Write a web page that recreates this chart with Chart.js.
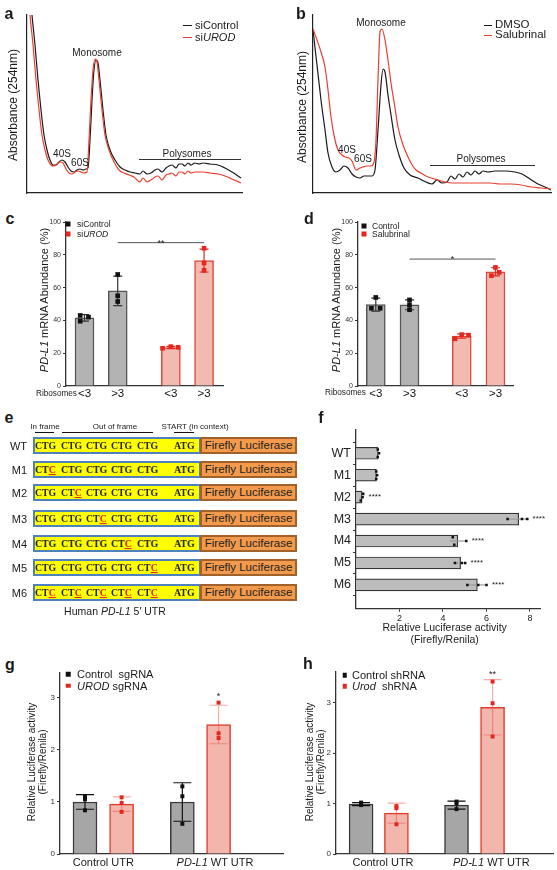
<!DOCTYPE html>
<html>
<head>
<meta charset="utf-8">
<title>PD-L1 translation figure</title>
<script src="https://cdn.jsdelivr.net/npm/chart.js@4.4.1/dist/chart.umd.min.js"></script>
<style>
body{margin:0;background:#fff;}
#fig{position:relative;width:557px;height:870px;overflow:hidden;font-family:"Liberation Sans",Arial,sans-serif;color:#1a1a1a;}
#fig canvas{position:absolute;}
.t{position:absolute;white-space:nowrap;line-height:1;}
.c{transform:translate(-50%,-50%);}
.l{transform:translateY(-50%);}
.r{transform:translate(-100%,-50%);}
.v{transform:translate(-50%,-50%) rotate(-90deg);}
.let{font-weight:bold;font-size:16px;}
.hl{position:absolute;height:0;}
.sq{position:absolute;transform:translate(-50%,-50%);}
.box{position:absolute;box-sizing:border-box;height:17px;}
.yel{background:#ffff00;border:2px solid #4f81bd;}
.ora{background:#f39a4c;border:2px solid #a0622a;font-size:11.5px;line-height:13px;text-align:center;color:#222;}
.cod{font-family:"Liberation Serif","Times New Roman",serif;font-weight:bold;font-size:9.8px;color:#222;}
.mut{color:#e3201b;text-decoration:underline;}
</style>
</head>
<body>
<div id="fig"></div>
<script>
// a: polysome profile (arbitrary absorbance units), siControl vs siUROD
var aCtrlX = [4,5,8,11,14,17,20,23,26,29,32,35,38,41,44,47,50,53,56,59,61,63,65,67,69,71,73,76,79,83,88,93,98,103,108,113,116,120,124,128,131,135,139,142,145,149,152,155,158,161,164,168,172,176,183,191,198,205,214]
var aCtrlY = [190,178,148,113,83,58,43,33,28,28,31,33,31,26,22,21,23,24,23,24,25,53,93,123,133,130,113,83,58,43,33,26,23,21,20,19,22,19,20,23,24,21,25,27,28,25,29,29,27,30,28,30,29,30,29,28,25,21,15]
var aUrodX = [2,3,6,9,12,15,18,21,24,27,30,33,36,39,42,45,48,51,54,57,60,62,64,66,68,70,72,75,78,82,87,92,97,102,107,113,116,120,124,128,131,135,139,142,145,149,152,155,158,161,164,168,172,176,183,191,198,205,214]
var aUrodY = [190,178,148,113,83,58,43,33,28,27,29,31,30,24,20,19,21,22,21,20,21,53,93,123,134,131,113,83,58,43,31,23,20,18,16,11,15,11,13,16,17,13,18,19,20,17,21,21,19,22,20,21,21,21,20,19,17,14,10]

// b: polysome profile, DMSO vs Salubrinal
var bDmsoX = [0,4,8,12,15,19,23,27,31,35,39,43,47,51,55,59,62,65,68,70,72,75,78,82,86,91,97,105,113,119,124,129,134,138,142,146,150,154,158,162,166,170,175,182,192,202,209,217,225,232,238]
var bDmsoY = [163,128,93,63,40,26,21,23,27,25,19,16,15,17,17,17,23,63,108,124,121,98,78,53,38,25,18,15,11,9,13,10,11,17,14,19,16,21,18,22,19,22,21,22,22,21,19,14,9,6,3]
var bSalX = [0,4,8,12,15,18,22,25,29,32,36,39,43,47,50,54,58,61,63,65,67,69,72,75,78,82,85,89,92,98,103,108,113,118,125,132,140,148,157,165,177,187,198,208,218,228,238]
var bSalY = [164,153,141,126,103,76,53,43,38,36,35,32,23,25,26,27,27,31,53,113,161,164,153,133,110,85,66,51,43,30,23,20,17,15,13,11,10,10,10,10,10,9,9,8,6,5,4]

// c: PD-L1 mRNA abundance (%), ribosome fractions
var riboTicks = ['<3','>3','<3','>3']
var pctTicks = [0,20,40,60,80,100]
var cCtrlMean = [41.5,58]
var cCtrlSd = [2,9]
var cCtrlPts = [[43,39.5,42],[68,55,51.5]]
var cUrodMean = [23.5,76.5]
var cUrodSd = [0.7,7]
var cUrodPts = [[23,24,23.6],[84,75,70.5]]

// d
var dCtrlMean = [49.6,49.5]
var dCtrlSd = [4,3]
var dCtrlPts = [[54,47.4,47.4],[52.5,49.5,46.5]]
var dSalMean = [30.5,69.6]
var dSalSd = [1.3,2.5]
var dSalPts = [[28.8,31.3,31.0],[72.3,67.3,69.3]]

// e: reporter constructs
var eRows = ['WT','M1','M2','M3','M4','M5','M6']
var eCodons = ['CTG','CTG','CTG','CTG','CTG']
var eMutated = [[],[0],[1],[2],[3],[4],[0,1,2,3,4]]

// f: relative luciferase activity per construct
var fLabels = ['WT','M1','M2','M3','M4','M5','M6']
var fMean = [1.02,0.94,0.28,7.48,4.68,4.81,5.58]
var fSd = [0.04,0.03,0.08,0.47,0.36,0.24,0.44]
var fPts = [[1.0,1.06,1.0],[0.93,0.97,0.93],[0.33,0.3,0.22],[6.97,7.63,7.87],[4.45,5.07,4.52],[4.55,4.86,5.02],[5.12,5.62,6.0]]
var fStars = ['','','****','****','****','****','****']
var fTicks = [2,4,6,8]

// g: sgRNA
var gGroups = ['Control UTR','<i>PD-L1</i> WT UTR']
var foldTicks = [0,1,2,3]
var gCtrlMean = [1.0,1.0]
var gCtrlSd = [0.14,0.37]
var gCtrlPts = [[1.1,1.05,0.84],[1.3,1.11,0.58]]
var gUrodMean = [0.96,2.49]
var gUrodSd = [0.14,0.37]
var gUrodPts = [[1.09,0.98,0.81],[2.91,2.32,2.23]]
var gStars = ['','*']

// h: shRNA
var hCtrlMean = [0.99,0.97]
var hCtrlSd = [0.03,0.08]
var hCtrlPts = [[1.02,0.99,0.97],[1.04,1.0,0.89]]
var hUrodMean = [0.81,2.91]
var hUrodSd = [0.2,0.55]
var hUrodPts = [[0.95,0.91,0.59],[3.42,2.99,2.33]]
var hStars = ['','**']

Chart.defaults.font.family = '"Liberation Sans", Arial, sans-serif'
Chart.defaults.color = '#222'
Chart.defaults.animation = false

var fig = document.getElementById('fig')

function canvasAt(b){
    var c = document.createElement('canvas')
    c.width = b.w
    c.height = b.h
    c.style.left = b.l + 'px'
    c.style.top = b.t + 'px'
    fig.appendChild(c)
    return c
}

// pin the chart area to exact page pixels
function frame(b, a){
    return {
        padding: {left:0, top:a.t - b.t, right:b.l + b.w - a.r, bottom:0},
        yFit: function(s){ s.width = a.l - b.l },
        xFit: function(s){ s.height = b.t + b.h - a.b }
    }
}

function extras(notes){
    return {
        id:'extras',
        afterDatasetDraw: function(chart, args){
            var ds = chart.data.datasets[args.index]
            if(!ds.err) return
            var horiz = chart.options.indexAxis === 'y'
            var vs = horiz ? chart.scales.x : chart.scales.y
            var ctx = chart.ctx
            ctx.save()
            ctx.strokeStyle = ds.errColor
            ctx.lineWidth = 1.2
            args.meta.data.forEach(function(el, i){
                var m = ds.means[i], e = ds.err[i]
                var p1 = vs.getPixelForValue(m - e), p2 = vs.getPixelForValue(m + e)
                var c = horiz ? el.y : el.x, w = (ds.cap || 0) / 2
                ctx.beginPath()
                if(horiz){
                    ctx.moveTo(p1, c); ctx.lineTo(p2, c)
                }else{
                    ctx.moveTo(c, p1); ctx.lineTo(c, p2)
                    ctx.moveTo(c - w, p1); ctx.lineTo(c + w, p1)
                    ctx.moveTo(c - w, p2); ctx.lineTo(c + w, p2)
                }
                ctx.stroke()
            })
            ctx.restore()
        },
        afterDraw: function(chart){
            var ctx = chart.ctx, xs = chart.scales.x, ys = chart.scales.y
            notes.forEach(function(n){
                ctx.save()
                ctx.fillStyle = '#222'
                ctx.strokeStyle = '#555'
                ctx.lineWidth = 1
                ctx.font = (n.size || 9) + 'px "Liberation Sans", Arial, sans-serif'
                var y = ys.getPixelForValue(n.y)
                if(n.x2 !== undefined){
                    var p1 = xs.getPixelForValue(n.x), p2 = xs.getPixelForValue(n.x2)
                    ctx.beginPath(); ctx.moveTo(p1, y); ctx.lineTo(p2, y); ctx.stroke()
                    ctx.textAlign = 'center'
                    ctx.textBaseline = 'alphabetic'
                    ctx.fillText(n.text, (p1 + p2) / 2, y + 3)
                }else{
                    ctx.textAlign = n.align || 'center'
                    ctx.textBaseline = 'middle'
                    ctx.fillText(n.text, xs.getPixelForValue(n.x), y)
                }
                ctx.restore()
            })
        }
    }
}

function profile(b, a, xmax, sets){
    var f = frame(b, a)
    new Chart(canvasAt(b), {
        type:'line',
        data:{datasets: sets.map(function(s){
            return {
                data: s.x.map(function(v, i){ return {x:v, y:s.y[i]} }),
                borderColor:s.color, borderWidth:1.2, pointRadius:0,
                cubicInterpolationMode:'monotone', order:s.order
            }
        })},
        options:{
            responsive:false, events:[],
            layout:{padding:f.padding},
            plugins:{legend:{display:false}, tooltip:{enabled:false}},
            scales:{
                x:{type:'linear', min:0, max:xmax, ticks:{display:false}, grid:{display:false}, border:{color:'#222', width:1.2}, afterFit:f.xFit},
                y:{type:'linear', min:0, max:178, ticks:{display:false}, grid:{display:false}, border:{color:'#222', width:1.2}, afterFit:f.yFit}
            }
        }
    })
}

function barPanel(b, a, o){
    var f = frame(b, a)
    var sets = []
    o.series.forEach(function(s){
        var dots = []
        s.at.forEach(function(k, i){
            s.pts[i].forEach(function(v, j){
                dots.push({x:o.slots[k] + (o.jit ? o.jit[k][j] : 0), y:v})
            })
        })
        sets.push({type:'scatter', order:1, data:dots, pointStyle:'rect', pointRadius:o.pr,
            backgroundColor:s.dot, borderColor:s.dot, borderWidth:0})
        sets.push({type:'bar', order:2, grouped:false, barThickness:o.bw, maxBarThickness:o.bw,
            data: s.at.map(function(k, i){ return {x:o.slots[k], y:s.means[i]} }),
            means:s.means, err:s.sd, errColor:s.errColor, cap:o.cap,
            backgroundColor:s.fill, borderColor:s.edge, borderWidth:1.5})
    })
    new Chart(canvasAt(b), {
        type:'bar',
        data:{datasets:sets},
        options:{
            responsive:false, events:[],
            layout:{padding:f.padding},
            plugins:{legend:{display:false}, tooltip:{enabled:false}},
            scales:{
                x:{type:'linear', offset:false, min:o.xmin, max:o.xmax, afterFit:f.xFit,
                    afterBuildTicks:function(s){ s.ticks = o.slots.map(function(v){ return {value:v} }) },
                    ticks:{display:!!o.xlabels, autoSkip:false, maxRotation:0, padding:1, color:'#111', font:{size:11.5},
                        callback:function(v, i){ return o.xlabels ? o.xlabels[i] : '' }},
                    grid:{display:false, drawTicks:false}, border:{color:'#333', width:1.3}},
                y:{type:'linear', min:0, max:o.ymax, afterFit:f.yFit,
                    afterBuildTicks:function(s){ s.ticks = o.yticks.map(function(v){ return {value:v} }) },
                    ticks:{padding:2, color:'#333', font:{size:o.yfont}},
                    grid:{display:true, drawOnChartArea:false, tickLength:3, color:'#333'},
                    border:{color:'#333', width:1.3}}
            }
        },
        plugins:[extras(o.notes || [])]
    })
}

function txt(x, y, html, cls, css){
    var d = document.createElement('div')
    d.className = 't ' + (cls || 'c')
    d.style.left = x + 'px'
    d.style.top = y + 'px'
    if(css) d.style.cssText += css
    d.innerHTML = html
    fig.appendChild(d)
    return d
}
function hline(x1, x2, y, color, w){
    var d = document.createElement('div')
    d.className = 'hl'
    d.style.cssText = 'left:' + x1 + 'px;top:' + y + 'px;width:' + (x2 - x1) + 'px;border-top:' + (w || 1.3) + 'px solid ' + color
    fig.appendChild(d)
}
function square(x, y, color, s){
    var d = document.createElement('div')
    d.className = 'sq'
    d.style.cssText = 'left:' + x + 'px;top:' + y + 'px;width:' + s + 'px;height:' + s + 'px;background:' + color
    fig.appendChild(d)
}
function starsAbove(means, sds, pts, pad){
    return means.map(function(m, i){ return Math.max(m + sds[i], Math.max.apply(null, pts[i])) + pad })
}

var RED = '#e3261e'

// ---------- a ----------
profile({l:0, t:0, w:270, h:200}, {l:27, t:15, r:242, b:193}, 215, [
    {x:aCtrlX, y:aCtrlY, color:'#1a1a1a', order:1},
    {x:aUrodX, y:aUrodY, color:'#e8402f', order:0}
])
// ---------- b ----------
profile({l:280, t:0, w:277, h:200}, {l:313, t:15, r:551, b:193}, 238, [
    {x:bDmsoX, y:bDmsoY, color:'#1a1a1a', order:1},
    {x:bSalX, y:bSalY, color:'#e8402f', order:0}
])

// ---------- c ----------
barPanel({l:40, t:210, w:200, h:195}, {l:66, t:222, r:223, b:386}, {
    slots:[1,2,3.6,4.6], xmin:0.443, xmax:5.17, xlabels:riboTicks,
    ymax:100, yticks:pctTicks, yfont:7, bw:19, cap:9, pr:3.3,
    jit:[[-0.13,-0.13,0.12],[0,0,0],[-0.25,0,0.22],[0,0,0]],
    series:[
        {at:[0,1], means:cCtrlMean, sd:cCtrlSd, pts:cCtrlPts, fill:'#b3b3b3', edge:'#555', dot:'#111', errColor:'#333'},
        {at:[2,3], means:cUrodMean, sd:cUrodSd, pts:cUrodPts, fill:'#f3bab2', edge:'#e04a3a', dot:RED, errColor:RED}
    ],
    notes:[{x:2, x2:4.6, y:87.4, text:'**', size:9}]
})

// ---------- d ----------
barPanel({l:300, t:210, w:240, h:195}, {l:358, t:222, r:513, b:386}, {
    slots:[1,2,3.55,4.55], xmin:0.472, xmax:5.07, xlabels:riboTicks,
    ymax:100, yticks:pctTicks, yfont:7, bw:19, cap:9, pr:3.3,
    jit:[[0,-0.13,0.13],[0,0,0],[-0.2,0,0.2],[0,-0.12,0.11]],
    series:[
        {at:[0,1], means:dCtrlMean, sd:dCtrlSd, pts:dCtrlPts, fill:'#b3b3b3', edge:'#555', dot:'#111', errColor:'#333'},
        {at:[2,3], means:dSalMean, sd:dSalSd, pts:dSalPts, fill:'#f3bab2', edge:'#e04a3a', dot:RED, errColor:RED}
    ],
    notes:[{x:2, x2:4.55, y:77.4, text:'*', size:9}]
})

// ---------- f ----------
;(function(){
    var b = {l:300, t:420, w:257, h:230}, a = {l:356, t:427, r:540, b:608.7}
    var f = frame(b, a)
    var fJit = [[-0.17,0,0.17],[-0.17,0,0.17],[-0.15,0,0.15],[0,0,0],[-0.17,0,0.17],[0,0,0],[0,0,0]]
    var dots = []
    fPts.forEach(function(p, i){ p.forEach(function(v, j){ dots.push({x:v, y:i + fJit[i][j]}) }) })
    var notes = []
    fStars.forEach(function(s, i){
        if(s) notes.push({x:Math.max.apply(null, fPts[i]) + 0.25, y:i, text:s, align:'left', size:8})
    })
    new Chart(canvasAt(b), {
        type:'bar',
        data:{datasets:[
            {type:'scatter', order:1, data:dots, pointStyle:'rect', pointRadius:1.8, backgroundColor:'#111', borderWidth:0},
            {type:'bar', order:2, grouped:false, barThickness:12, maxBarThickness:12,
                data:fMean.map(function(v, i){ return {x:v, y:i} }),
                means:fMean, err:fSd, errColor:'#9a9a9a',
                backgroundColor:'#bdbdbd', borderColor:'#333', borderWidth:1.2}
        ]},
        options:{
            indexAxis:'y', responsive:false, events:[],
            layout:{padding:f.padding},
            plugins:{legend:{display:false}, tooltip:{enabled:false}},
            scales:{
                x:{type:'linear', min:0, max:8.46, afterFit:f.xFit,
                    afterBuildTicks:function(s){ s.ticks = fTicks.map(function(v){ return {value:v} }) },
                    ticks:{padding:1, color:'#222', font:{size:9}},
                    grid:{display:true, drawOnChartArea:false, tickLength:3, color:'#333'},
                    border:{color:'#333', width:1.3}},
                y:{type:'linear', reverse:true, min:-0.5, max:6.5, afterFit:f.yFit,
                    afterBuildTicks:function(s){ s.ticks = fLabels.map(function(v, i){ return {value:i} }) },
                    ticks:{padding:2, color:'#222', font:{size:12.5}, callback:function(v, i){ return fLabels[i] }},
                    grid:{display:true, drawOnChartArea:false, tickLength:3, color:'#333'},
                    border:{color:'#333', width:1.3}}
            }
        },
        plugins:[extras(notes)]
    })
})()

// ---------- g ----------
var gStarY = starsAbove(gUrodMean, gUrodSd, gUrodPts, 0.12)
barPanel({l:20, t:660, w:270, h:205}, {l:60, t:673, r:283, b:854}, {
    slots:[1,2,3.66,4.65], xmin:0.317, xmax:6.41,
    ymax:3.48, yticks:foldTicks, yfont:8, bw:24, cap:18, pr:2.8,
    series:[
        {at:[0,2], means:gCtrlMean, sd:gCtrlSd, pts:gCtrlPts, fill:'#a6a6a6', edge:'#3a3a3a', dot:'#111', errColor:'#111'},
        {at:[1,3], means:gUrodMean, sd:gUrodSd, pts:gUrodPts, fill:'#f2b6ad', edge:'#e23b2e', dot:RED, errColor:'rgba(231,76,60,0.45)'}
    ],
    notes:gStars.map(function(s, i){ return {x:[2,4.65][i], y:gStarY[i], text:s, size:9} })
})

// ---------- h ----------
var hStarY = starsAbove(hUrodMean, hUrodSd, hUrodPts, 0.1)
barPanel({l:300, t:660, w:257, h:205}, {l:336, t:672, r:556, b:854}, {
    slots:[1,2,3.7,4.72], xmin:0.29, xmax:6.43,
    ymax:3.61, yticks:foldTicks, yfont:8, bw:24, cap:18, pr:2.8,
    series:[
        {at:[0,2], means:hCtrlMean, sd:hCtrlSd, pts:hCtrlPts, fill:'#a6a6a6', edge:'#3a3a3a', dot:'#111', errColor:'#111'},
        {at:[1,3], means:hUrodMean, sd:hUrodSd, pts:hUrodPts, fill:'#f2b6ad', edge:'#e23b2e', dot:RED, errColor:'rgba(231,76,60,0.45)'}
    ],
    notes:hStars.map(function(s, i){ return {x:[2,4.72][i], y:hStarY[i], text:s, size:9} })
})

// ---------- text layer ----------
// panel letters
txt(9, 14, 'a', 'c let'); txt(301, 14, 'b', 'c let')
txt(10, 219, 'c', 'c let'); txt(309, 219, 'd', 'c let')
txt(9, 418, 'e', 'c let'); txt(321, 418, 'f', 'c let')
txt(10, 665, 'g', 'c let'); txt(308, 664, 'h', 'c let')

// a
txt(13, 105, 'Absorbance (254nm)', 'v', 'font-size:12px')
hline(183, 192, 25, '#1a1a1a', 1.5); txt(195, 25, 'siControl', 'l', 'font-size:11px')
hline(183, 192, 37, '#e8402f', 1.5); txt(195, 37, 'si<i>UROD</i>', 'l', 'font-size:11px')
txt(97, 53, 'Monosome', 'c', 'font-size:10px')
txt(62, 154, '40S', 'c', 'font-size:10px')
txt(80, 163, '60S', 'c', 'font-size:10px')
txt(187, 154, 'Polysomes', 'c', 'font-size:10px')
hline(139, 241, 159, '#333', 1)

// b
txt(302, 107, 'Absorbance (254nm)', 'v', 'font-size:12px')
hline(484, 492, 25, '#1a1a1a', 1.5); txt(495, 25, 'DMSO', 'l', 'font-size:11.5px')
hline(484, 492, 34.5, '#e8402f', 1.5); txt(495, 35, 'Salubrinal', 'l', 'font-size:11.5px')
txt(381, 23, 'Monosome', 'c', 'font-size:10px')
txt(347, 150, '40S', 'c', 'font-size:10px')
txt(363, 159, '60S', 'c', 'font-size:10px')
txt(481, 159, 'Polysomes', 'c', 'font-size:10px')
hline(430, 535, 165, '#333', 1)

// c
txt(44, 300, '<i>PD-L1</i> mRNA Abundance (%)', 'v', 'font-size:11px')
square(68, 224, '#111', 5); txt(77, 224, 'siControl', 'l', 'font-size:8.5px')
square(68, 233.7, RED, 5); txt(77, 233.7, 'si<i>UROD</i>', 'l', 'font-size:8.5px')
txt(36, 394, 'Ribosomes', 'l', 'font-size:8.2px')

// d
txt(336, 300, '<i>PD-L1</i> mRNA Abundance (%)', 'v', 'font-size:11px')
square(364, 226, '#111', 5); txt(372, 226, 'Control', 'l', 'font-size:8.5px')
square(364, 233.5, RED, 5); txt(372, 233.5, 'Salubrinal', 'l', 'font-size:8.5px')
txt(325, 393.3, 'Ribosomes', 'l', 'font-size:8.2px')

// e: construct diagram
txt(45, 426.7, 'In frame', 'c', 'font-size:8px')
txt(115, 426.7, 'Out of frame', 'c', 'font-size:8px')
txt(195, 426.7, 'START (in context)', 'c', 'font-size:8px')
hline(35, 54, 432, '#111', 1.6)
hline(62, 153, 432, '#111', 1.6)
hline(174, 194, 432, '#111', 1.6)
;(function(){
    var eTop = [437,461,484,510,535,559,584]
    var eCodonX = [35,61,86,111,137]
    eRows.forEach(function(name, r){
        var top = eTop[r], mid = top + 8.5
        txt(27, mid, name, 'r', 'font-size:11px')
        var y = document.createElement('div')
        y.className = 'box yel'
        y.style.cssText = 'left:33px;top:' + top + 'px;width:168px'
        fig.appendChild(y)
        var o = document.createElement('div')
        o.className = 'box ora'
        o.style.cssText = 'left:200px;top:' + top + 'px;width:97px'
        o.textContent = 'Firefly Luciferase'
        fig.appendChild(o)
        eCodons.forEach(function(cod, k){
            var html = eMutated[r].indexOf(k) >= 0 ? cod.slice(0, 2) + '<span class="mut">C</span>' : cod
            txt(eCodonX[k], mid, html, 'l cod')
        })
        txt(174, mid, 'ATG', 'l cod')
    })
})()
txt(115, 610.7, 'Human <i>PD-L1</i> 5\u2032 UTR', 'c', 'font-size:10.5px')

// f
txt(444.7, 627.3, 'Relative Luciferase activity', 'c', 'font-size:10.5px')
txt(444.7, 639, '(Firefly/Renila)', 'c', 'font-size:10.5px')

// g
txt(31.7, 761.7, 'Relative Luciferase activity', 'v', 'font-size:10px')
txt(43.3, 761.7, '(Firefly/Renila)', 'v', 'font-size:10px')
square(68.3, 674.3, '#111', 4.5); txt(77, 674.3, 'Control&nbsp; sgRNA', 'l', 'font-size:11px')
square(68.3, 685.7, RED, 4.5); txt(77, 685.7, '<i>UROD</i> sgRNA', 'l', 'font-size:11px')
txt(103.3, 862.3, gGroups[0], 'c', 'font-size:11px')
txt(215, 862.3, gGroups[1], 'c', 'font-size:11px')

// h
txt(309.7, 761.7, 'Relative Luciferase activity', 'v', 'font-size:10px')
txt(321.3, 761.7, '(Firefly/Renila)', 'v', 'font-size:10px')
square(344.7, 675, '#111', 4.5); txt(352, 675, 'Control shRNA', 'l', 'font-size:11px')
square(344.7, 686, RED, 4.5); txt(352, 686, '<i>Urod</i>&nbsp; shRNA', 'l', 'font-size:11px')
txt(383, 862.3, gGroups[0], 'c', 'font-size:11px')
txt(491.3, 862.3, gGroups[1], 'c', 'font-size:11px')
</script>
</body>
</html>
